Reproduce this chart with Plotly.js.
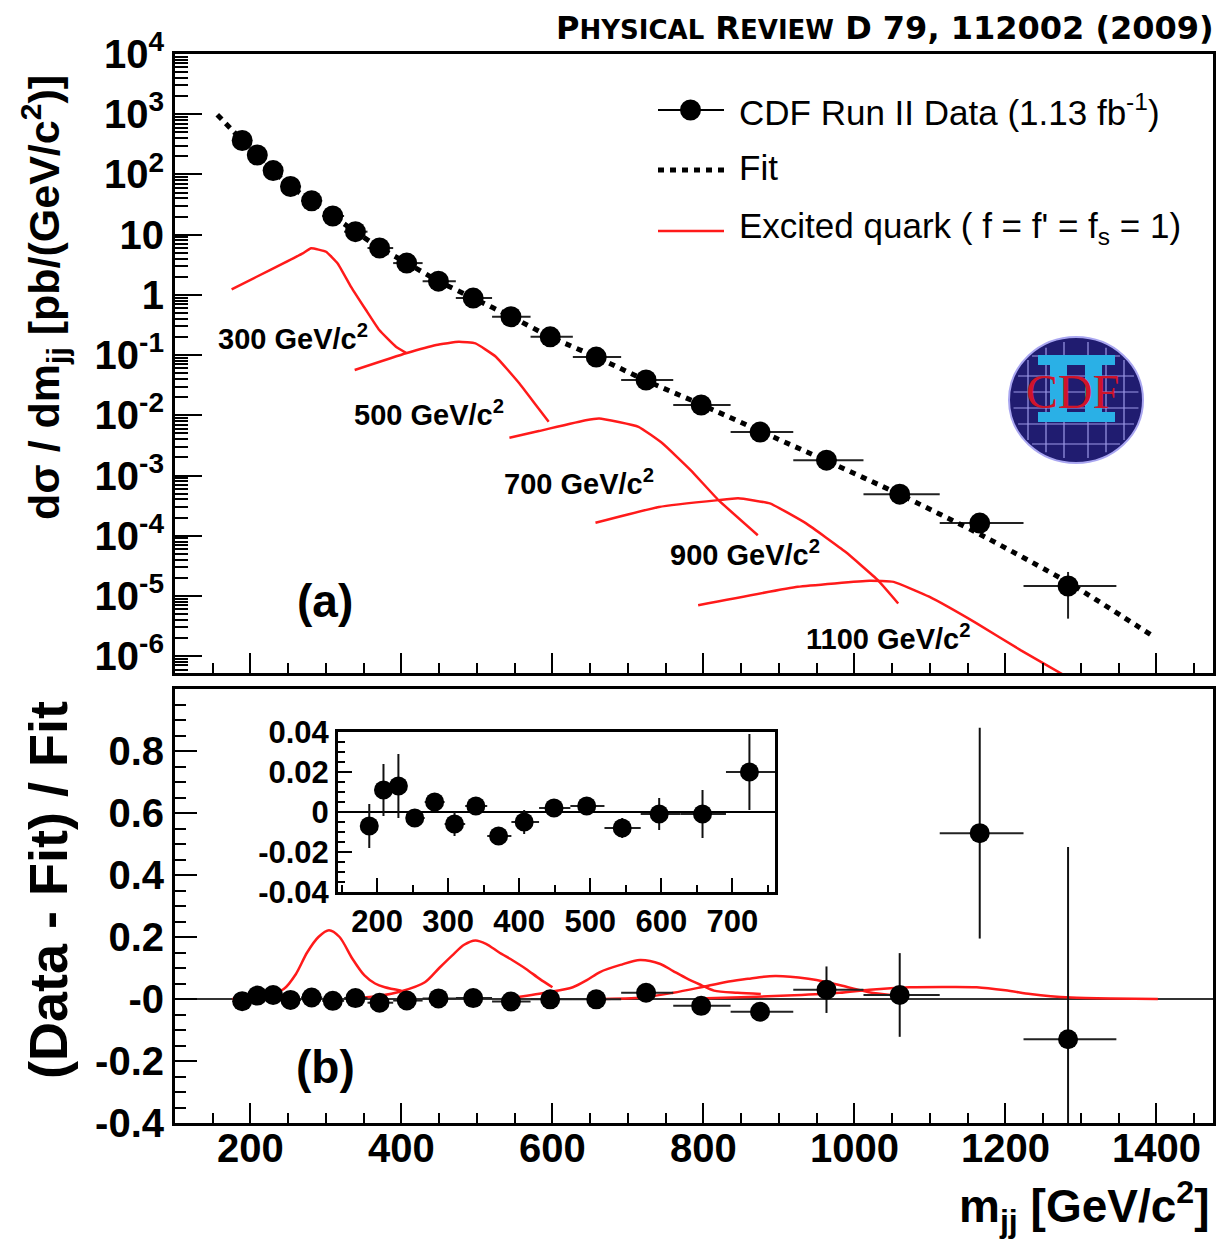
<!DOCTYPE html>
<html><head><meta charset="utf-8">
<script src="https://cdn.plot.ly/plotly-3.0.1.min.js"></script>
<style>body{margin:0;background:#fff}#chart{width:1221px;height:1242px}</style>
</head><body><div id="chart"></div>
<script>
// ---------------- data ----------------
const massCenters = [189,209,230,253,281,309,339,371,407,449,495,545,597,658,724,797,875,963,1060,1166,1283];
const binLow  = [180,199,220,242,267,295,324,355,389,428,472,520,571,627,691,760,836,919,1012,1113,1224];
const binHigh = [199,220,242,267,295,324,355,389,428,472,520,571,627,691,760,836,919,1012,1113,1224,1347];
const crossSection = [366,210,116,63,36.5,20.4,11.2,5.99,3.37,1.69,0.885,0.433,0.201,0.0927,0.0385,0.0148,0.00526,0.0018,4.9e-4,1.62e-4,1.46e-5];
const residual    = [-0.007,0.011,0.013,-0.003,0.005,-0.006,0.003,-0.012,-0.005,0.002,0.003,-0.008,-0.001,-0.001,0.020,-0.022,-0.041,0.030,0.013,0.535,-0.130];
const residualErr = [0.011,0.013,0.016,0.004,0.004,0.006,0.004,0.004,0.006,0.004,0.004,0.005,0.008,0.012,0.019,0.02,0.03,0.075,0.135,0.34,0.62];
const insetCount = 15;

const fitMass  = [156,189,209,230,253,281,309,339,371,407,449,495,545,597,658,724,797,875,963,1060,1166,1283,1392];
const fitValue = [980,369,208,114,63.2,36.3,20.5,11.17,6.06,3.39,1.69,0.882,0.436,0.201,0.0928,0.0377,0.0151,0.00548,0.00175,4.84e-4,1.06e-4,1.68e-5,2.3e-6];

const sig300Mass = [175,207.5,242.7,269.2,280.3,300.1,315.5,333.2,353,370.6,392.7,406];
const sig300Val  = [1.23,1.98,3.3,4.89,5.92,5.2,3.33,1.36,0.56,0.26,0.137,0.109];
const sig500Mass = [338,406,446,476,498,525,556,578,595];
const sig500Val  = [0.0564,0.107,0.147,0.166,0.156,0.094,0.034,0.0148,0.0078];
const sig700Mass = [543,582,644,662,714,746,783,820,872];
const sig700Val  = [0.00423,0.00547,0.0083,0.00887,0.00644,0.0034,0.00123,0.00039,0.000102];
const sig900Mass = [657,741,820,846,888,936,988,1031,1058];
const sig900Val  = [1.64e-4,3.0e-4,3.9e-4,4.17e-4,3.44e-4,1.6e-4,5.4e-5,1.83e-5,7.5e-6];
const sig1100Mass = [793,925,1020,1052,1099,1162,1220,1278];
const sig1100Val  = [7.0e-6,1.42e-5,1.78e-5,1.71e-5,9.7e-6,3.5e-6,1.26e-6,4.8e-7];

const rat300Mass = [176,200,225,244,260,275,290,304,318,335,351,365,378,400];
const rat300Val  = [0.0,0.005,0.015,0.032,0.08,0.15,0.2,0.222,0.2,0.13,0.076,0.05,0.038,0.027];
const rat500Mass = [338,370,400,431,450,467,483,498,512,529,547,565,583,600];
const rat500Val  = [0.003,0.01,0.025,0.054,0.1,0.14,0.175,0.189,0.178,0.151,0.125,0.097,0.065,0.038];
const rat700Mass = [543,590,627,645,663,690,716,743,760,779,797,814,845,876];
const rat700Val  = [0.002,0.02,0.038,0.06,0.087,0.11,0.126,0.113,0.09,0.065,0.045,0.027,0.02,0.016];
const rat900Mass = [657,720,760,797,830,859,880,895,915,939,962,984,1019,1058];
const rat900Val  = [0.0,0.005,0.02,0.038,0.055,0.065,0.072,0.074,0.072,0.065,0.055,0.043,0.022,0.011];
const rat1100Mass = [793,850,920,980,1020,1073,1120,1162,1200,1233,1260,1287,1340,1402];
const rat1100Val  = [0.002,0.006,0.012,0.02,0.03,0.038,0.039,0.038,0.028,0.016,0.009,0.005,0.002,0.0];

const logTickVals = [1e4,1e3,1e2,10,1,0.1,0.01,1e-3,1e-4,1e-5,1e-6];
const logTickText = ['10<sup>4</sup>','10<sup>3</sup>','10<sup>2</sup>','10','1','10<sup>-1</sup>','10<sup>-2</sup>','10<sup>-3</sup>','10<sup>-4</sup>','10<sup>-5</sup>','10<sup>-6</sup>'];
const ratioTickVals = [-0.4,-0.2,0,0.2,0.4,0.6,0.8];
const ratioTickText = ['-0.4','-0.2','-0','0.2','0.4','0.6','0.8'];
const insetTickVals = [-0.04,-0.02,0,0.02,0.04];
const insetTickText = ['-0.04','-0.02','0','0.02','0.04'];
const massLabels = ['300 GeV/c<sup>2</sup>','500 GeV/c<sup>2</sup>','700 GeV/c<sup>2</sup>','900 GeV/c<sup>2</sup>','1100 GeV/c<sup>2</sup>'];

// ---------------- helpers ----------------
const W = 1221, H = 1242;
const PX = x => x / W, PY = y => 1 - y / H;
const FONT = 'Liberation Sans, Arial, sans-serif';
const RED = '#ff1a1a';

const xErrPlus  = massCenters.map((m,i) => binHigh[i] - m);
const xErrMinus = massCenters.map((m,i) => m - binLow[i]);
const topErr = crossSection.map((v,i) => residualErr[i] * v / (1 + residual[i]));

const logMinor = [];
for (let k = -7; k <= 3; k++) for (let d = 2; d <= 9; d++) logMinor.push(d * Math.pow(10, k));

const traces = [];
[[sig300Mass,sig300Val],[sig500Mass,sig500Val],[sig700Mass,sig700Val],[sig900Mass,sig900Val],[sig1100Mass,sig1100Val]].forEach(s => {
  traces.push({x:s[0], y:s[1], type:'scatter', mode:'lines', line:{color:RED, width:2.5, shape:'spline', smoothing:0.35}, xaxis:'x', yaxis:'y', showlegend:false, hoverinfo:'skip'});
});
traces.push({x:massCenters, y:crossSection, type:'scatter', mode:'markers',
  marker:{color:'#000', size:21, symbol:'circle'},
  error_x:{type:'data', symmetric:false, array:xErrPlus, arrayminus:xErrMinus, width:0, thickness:2, color:'#222'},
  error_y:{type:'data', array:topErr, width:0, thickness:2, color:'#222'},
  xaxis:'x', yaxis:'y', showlegend:false});
traces.push({x:fitMass, y:fitValue, type:'scatter', mode:'lines', line:{color:'#000', width:5, dash:'6px,6px', shape:'spline', smoothing:0.5}, xaxis:'x', yaxis:'y', showlegend:false});

[[rat300Mass,rat300Val],[rat500Mass,rat500Val],[rat700Mass,rat700Val],[rat900Mass,rat900Val],[rat1100Mass,rat1100Val]].forEach(s => {
  traces.push({x:s[0], y:s[1], type:'scatter', mode:'lines', line:{color:RED, width:2.5, shape:'spline', smoothing:0.8}, xaxis:'x2', yaxis:'y2', showlegend:false, hoverinfo:'skip'});
});
traces.push({x:massCenters, y:residual, type:'scatter', mode:'markers',
  marker:{color:'#000', size:20},
  error_x:{type:'data', symmetric:false, array:xErrPlus, arrayminus:xErrMinus, width:0, thickness:2, color:'#222'},
  error_y:{type:'data', array:residualErr, width:0, thickness:2, color:'#111'},
  xaxis:'x2', yaxis:'y2', showlegend:false});
traces.push({x:massCenters.slice(0,insetCount), y:residual.slice(0,insetCount), type:'scatter', mode:'markers',
  marker:{color:'#000', size:19},
  error_x:{type:'data', symmetric:false, array:xErrPlus.slice(0,insetCount), arrayminus:xErrMinus.slice(0,insetCount), width:0, thickness:2, color:'#222'},
  error_y:{type:'data', array:residualErr.slice(0,insetCount), width:0, thickness:2, color:'#111'},
  xaxis:'x3', yaxis:'y3', showlegend:false});

const axBase = {showgrid:false, zeroline:false, showline:true, linecolor:'#000', linewidth:3, mirror:true,
  ticks:'inside', tickcolor:'#000', tickwidth:2};
const bigTick = {family:FONT, size:40, color:'#000', weight:700};

const layout = {
  width:W, height:H, margin:{l:0,r:0,t:0,b:0}, paper_bgcolor:'#fff', plot_bgcolor:'rgba(0,0,0,0)',
  showlegend:false,
  xaxis: Object.assign({}, axBase, {domain:[PX(175),PX(1213)], range:[100,1475], anchor:'y', showticklabels:false,
    tickmode:'linear', tick0:0, dtick:200, ticklen:20, minor:{tickmode:'linear', tick0:0, dtick:50, ticks:'inside', ticklen:10, tickcolor:'#000', tickwidth:2, showgrid:false}}),
  yaxis: Object.assign({}, axBase, {domain:[PY(673),PY(54)], type:'log', range:[-6.28,4], anchor:'x',
    tickmode:'array', tickvals:logTickVals, ticktext:logTickText, ticklen:27, tickfont:bigTick,
    minor:{tickmode:'array', tickvals:logMinor, ticks:'inside', ticklen:13, tickcolor:'#000', tickwidth:2, showgrid:false}}),
  xaxis2: Object.assign({}, axBase, {domain:[PX(175),PX(1213)], range:[100,1475], anchor:'y2',
    tickmode:'linear', tick0:0, dtick:200, ticklen:20, tickfont:bigTick, ticklabelstandoff:-12,
    minor:{tickmode:'linear', tick0:0, dtick:50, ticks:'inside', ticklen:10, tickcolor:'#000', tickwidth:2, showgrid:false}}),
  yaxis2: Object.assign({}, axBase, {domain:[PY(1123),PY(689)], range:[-0.4,1.0], anchor:'x2',
    tickmode:'array', tickvals:ratioTickVals, ticktext:ratioTickText, ticklen:22, tickfont:bigTick,
    minor:{tickmode:'linear', tick0:0, dtick:0.05, ticks:'inside', ticklen:11, tickcolor:'#000', tickwidth:2, showgrid:false}}),
  xaxis3: Object.assign({}, axBase, {domain:[PX(338),PX(775)], range:[145,760], anchor:'y3', linewidth:3,
    tickmode:'linear', tick0:0, dtick:100, ticklen:14, tickfont:{family:FONT, size:31, color:'#000', weight:700},
    minor:{tickmode:'linear', tick0:0, dtick:50, ticks:'inside', ticklen:7, tickcolor:'#000', tickwidth:2, showgrid:false}}),
  yaxis3: Object.assign({}, axBase, {domain:[PY(892),PY(732)], range:[-0.04,0.04], anchor:'x3', linewidth:3,
    tickmode:'array', tickvals:insetTickVals, ticktext:insetTickText, ticklen:14, tickfont:{family:FONT, size:31, color:'#000', weight:700},
    minor:{tickmode:'linear', tick0:0, dtick:0.005, ticks:'inside', ticklen:7, tickcolor:'#000', tickwidth:2, showgrid:false}}),
  shapes: [], annotations: []
};

layout.shapes.push({type:'line', xref:'x2 domain', yref:'y2', x0:0, x1:1, y0:0, y1:0, line:{color:'#333', width:2}, layer:'below'});
layout.shapes.push({type:'line', xref:'x3 domain', yref:'y3', x0:0, x1:1, y0:0, y1:0, line:{color:'#000', width:2}, layer:'below'});

// legend glyphs
layout.shapes.push({type:'line', xref:'paper', yref:'paper', x0:PX(658), x1:PX(724), y0:PY(110), y1:PY(110), line:{color:'#000', width:2}});
layout.shapes.push({type:'circle', xref:'paper', yref:'paper', x0:PX(680), x1:PX(701), y0:PY(99.5), y1:PY(120.5), fillcolor:'#000', line:{color:'#000', width:0}});
layout.shapes.push({type:'line', xref:'paper', yref:'paper', x0:PX(658), x1:PX(724), y0:PY(170), y1:PY(170), line:{color:'#000', width:5, dash:'6px,6px'}});
layout.shapes.push({type:'line', xref:'paper', yref:'paper', x0:PX(658), x1:PX(724), y0:PY(231), y1:PY(231), line:{color:RED, width:2.5}});

// CDF logo (decoration)
const lc = {x:1076, y:400, rx:67, ry:63};
layout.shapes.push({type:'circle', xref:'paper', yref:'paper', x0:PX(lc.x-lc.rx), x1:PX(lc.x+lc.rx), y0:PY(lc.y+lc.ry), y1:PY(lc.y-lc.ry), fillcolor:'#201c70', line:{color:'#a9a6f0', width:2}});
[-44,-24,-8,8,24,44].forEach(dy => {
  const hw = lc.rx*Math.sqrt(Math.max(0, 1 - (dy*dy)/(lc.ry*lc.ry))) - 4;
  layout.shapes.push({type:'line', xref:'paper', yref:'paper', x0:PX(lc.x-hw), x1:PX(lc.x+hw), y0:PY(lc.y+dy), y1:PY(lc.y+dy), line:{color:'#9d9ae8', width:1.2}});
});
[-48,-30,-12,12,30,48].forEach(dx => {
  const hh = lc.ry*Math.sqrt(Math.max(0, 1 - (dx*dx)/(lc.rx*lc.rx))) - 4;
  layout.shapes.push({type:'line', xref:'paper', yref:'paper', x0:PX(lc.x+dx), x1:PX(lc.x+dx), y0:PY(lc.y-hh), y1:PY(lc.y+hh), line:{color:'#9d9ae8', width:1.2}});
});
[[1038,355,1115,365],[1050,365,1067,412],[1085,365,1102,412],[1038,412,1115,422]].forEach(r => {
  layout.shapes.push({type:'rect', xref:'paper', yref:'paper', x0:PX(r[0]), x1:PX(r[2]), y0:PY(r[3]), y1:PY(r[1]), fillcolor:'#2ab0e6', line:{width:0}});
});
layout.annotations.push({xref:'paper', yref:'paper', x:PX(1072), y:PY(391), text:'CDF', showarrow:false, xanchor:'center', yanchor:'middle',
  font:{family:'Liberation Serif, DejaVu Serif, serif', size:48, color:'#d0142a'}});

// header
layout.annotations.push({xref:'paper', yref:'paper', x:PX(1216), y:PY(28), xanchor:'right', yanchor:'middle', showarrow:false,
  text:'P<span style="font-size:26px">HYSICAL</span> R<span style="font-size:26px">EVIEW</span> D 79, 112002 (2009)',
  font:{family:'DejaVu Sans, Open Sans, sans-serif', size:32, color:'#000', weight:700}});

// legend texts
const legFont = {family:FONT, size:35, color:'#000'};
layout.annotations.push({xref:'paper', yref:'paper', x:PX(737), y:PY(110), xanchor:'left', yanchor:'middle', showarrow:false, text:'CDF Run II Data (1.13 fb<sup>-1</sup>)', font:legFont});
layout.annotations.push({xref:'paper', yref:'paper', x:PX(737), y:PY(168), xanchor:'left', yanchor:'middle', showarrow:false, text:'Fit', font:legFont});
layout.annotations.push({xref:'paper', yref:'paper', x:PX(737), y:PY(228), xanchor:'left', yanchor:'middle', showarrow:false, text:'Excited quark ( f = f\' = f<sub>s</sub> = 1)', font:legFont});

const labelPos = [[216,337],[352,413],[502,482],[668,553],[804,637]];
massLabels.forEach((t,i) => {
  layout.annotations.push({xref:'paper', yref:'paper', x:PX(labelPos[i][0]), y:PY(labelPos[i][1]), xanchor:'left', yanchor:'middle', showarrow:false, text:t,
    font:{family:FONT, size:29, color:'#000', weight:700}});
});
layout.annotations.push({xref:'paper', yref:'paper', x:PX(325), y:PY(601), xanchor:'center', yanchor:'middle', showarrow:false, text:'(a)', font:{family:FONT, size:46, color:'#000', weight:700}});
layout.annotations.push({xref:'paper', yref:'paper', x:PX(325), y:PY(1067), xanchor:'center', yanchor:'middle', showarrow:false, text:'(b)', font:{family:FONT, size:46, color:'#000', weight:700}});

layout.annotations.push({xref:'paper', yref:'paper', x:PX(44), y:PY(298), xanchor:'center', yanchor:'middle', showarrow:false, textangle:-90,
  text:'dσ / dm<sub>jj</sub> [pb/(GeV/c<sup>2</sup>)]', font:{family:FONT, size:43, color:'#000', weight:700}});
layout.annotations.push({xref:'paper', yref:'paper', x:PX(48), y:PY(890), xanchor:'center', yanchor:'middle', showarrow:false, textangle:-90,
  text:'(Data - Fit) / Fit', font:{family:FONT, size:54, color:'#000', weight:700}});
layout.annotations.push({xref:'paper', yref:'paper', x:PX(1212), y:PY(1206), xanchor:'right', yanchor:'middle', showarrow:false,
  text:'m<sub>jj</sub> [GeV/c<sup>2</sup>]', font:{family:FONT, size:46, color:'#000', weight:700}});

Plotly.newPlot('chart', traces, layout, {staticPlot:true, displayModeBar:false});
</script>
</body></html>
